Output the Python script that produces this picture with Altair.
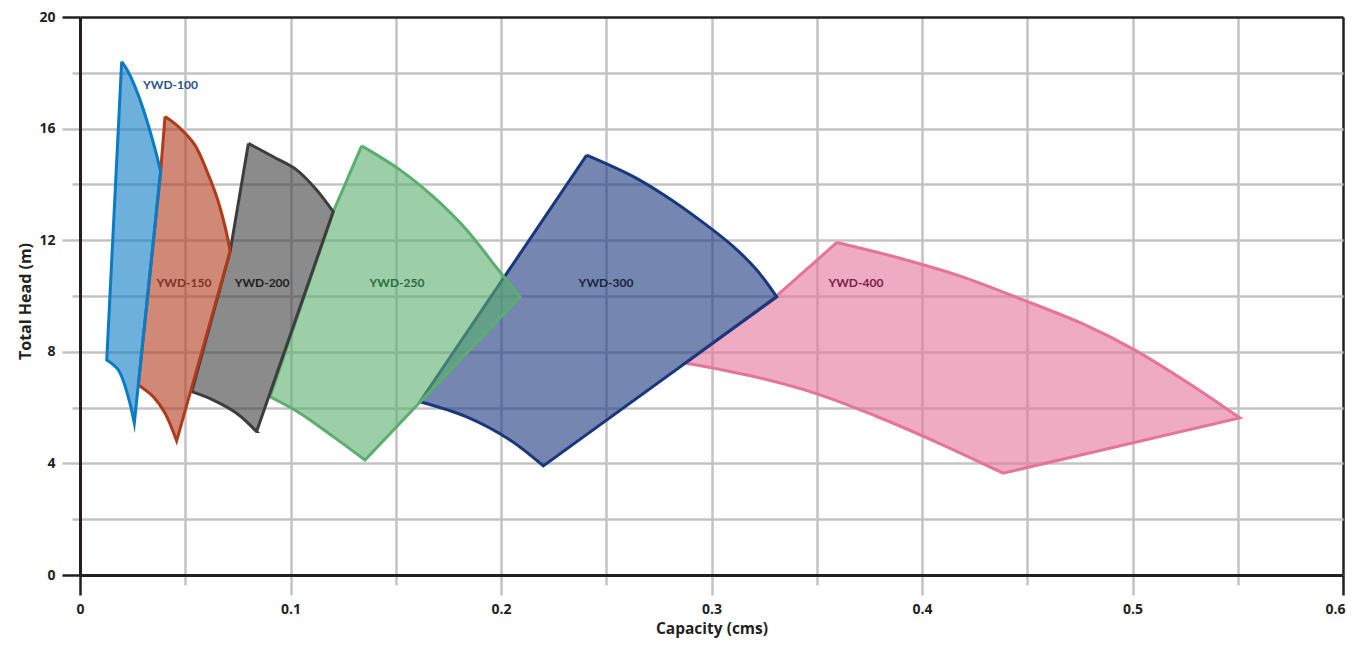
import altair as alt
import pandas as pd

# ---- data ----
pumps = ["YWD-100", "YWD-150", "YWD-200", "YWD-250", "YWD-300", "YWD-400"]
stroke_colors = ["#0B7BC3", "#B03A1B", "#3D3D3D", "#5AAF6E", "#19377D", "#E5739A"]
label_colors = ["#27548A", "#7E3324", "#1E1E1E", "#2F6B40", "#1B2340", "#7C1E46"]

# outline points (capacity, head); corner = 1 marks a sharp vertex of the envelope
ywd100_q = [0.0198, 0.0229, 0.0277, 0.0324, 0.0364, 0.0383, 0.0258, 0.0229, 0.0182, 0.0127, 0.0198]
ywd100_h = [18.40, 18.04, 17.20, 16.13, 15.05, 14.46, 5.44, 6.39, 7.35, 7.71, 18.40]
ywd100_c = [1, 0, 0, 0, 0, 1, 1, 0, 0, 1, 1]

ywd150_q = [0.0404, 0.0467, 0.0546, 0.0610, 0.0657, 0.0705, 0.0713, 0.0459, 0.0404, 0.0348, 0.0277, 0.0383, 0.0404]
ywd150_h = [16.43, 16.07, 15.41, 14.34, 13.38, 11.95, 11.59, 4.81, 5.80, 6.39, 6.81, 14.46, 16.43]
ywd150_c = [1, 0, 0, 0, 0, 0, 1, 1, 0, 0, 1, 1, 1]

ywd200_q = [0.0800, 0.0918, 0.1029, 0.1124, 0.1203, 0.0839, 0.0744, 0.0633, 0.0531, 0.0713, 0.0800]
ywd200_h = [15.47, 14.99, 14.52, 13.80, 13.02, 5.14, 5.80, 6.27, 6.57, 11.59, 15.47]
ywd200_c = [1, 0, 0, 0, 1, 1, 0, 0, 1, 1, 1]

ywd250_q = [0.1338, 0.1520, 0.1678, 0.1837, 0.1963, 0.2090, 0.1354, 0.1203, 0.1045, 0.0903, 0.1203, 0.1338]
ywd250_h = [15.38, 14.52, 13.56, 12.37, 11.17, 9.97, 4.12, 4.96, 5.80, 6.39, 13.02, 15.38]
ywd250_c = [1, 0, 0, 0, 0, 1, 1, 0, 0, 1, 1, 1]

ywd300_q = [0.2407, 0.2629, 0.2787, 0.2945, 0.3104, 0.3215, 0.3310, 0.2201, 0.2043, 0.1837, 0.1615, 0.2407]
ywd300_h = [15.05, 14.28, 13.56, 12.72, 11.77, 10.93, 9.97, 3.91, 4.84, 5.67, 6.21, 15.05]
ywd300_c = [1, 0, 0, 0, 0, 0, 1, 1, 0, 0, 1, 1]

ywd400_q = [0.3596, 0.3882, 0.4178, 0.4474, 0.4770, 0.5007, 0.5263, 0.5510, 0.4385, 0.4079, 0.3783, 0.3487, 0.3191, 0.2876, 0.3300, 0.3596]
ywd400_h = [11.92, 11.38, 10.72, 9.88, 8.98, 8.08, 6.89, 5.63, 3.65, 4.73, 5.69, 6.53, 7.13, 7.60, 9.94, 11.92]
ywd400_c = [1, 0, 0, 0, 0, 0, 0, 1, 1, 0, 0, 0, 0, 1, 1, 1]

label_q = [0.0430, 0.0494, 0.0865, 0.1506, 0.2499, 0.3686]
label_h = [17.56, 10.47, 10.47, 10.47, 10.47, 10.47]

x_ticks = [round(i * 0.05, 2) for i in range(13)]
y_ticks = list(range(0, 21, 2))

# ---- build tables ----
series = {
    "YWD-100": (ywd100_q, ywd100_h, ywd100_c),
    "YWD-150": (ywd150_q, ywd150_h, ywd150_c),
    "YWD-200": (ywd200_q, ywd200_h, ywd200_c),
    "YWD-250": (ywd250_q, ywd250_h, ywd250_c),
    "YWD-300": (ywd300_q, ywd300_h, ywd300_c),
    "YWD-400": (ywd400_q, ywd400_h, ywd400_c),
}
rows = []
for p, (qs, hs, cs) in series.items():
    col = stroke_colors[pumps.index(p)]
    k = 0
    n = len(qs)
    for i, (q, h, c) in enumerate(zip(qs, hs, cs)):
        # a sharp vertex is listed twice so the smooth curve keeps its corner
        reps = 2 if (c and 0 < i < n - 1) else 1
        for _ in range(reps):
            rows.append({"pump": p, "q": q, "h": h, "idx": k, "scolor": col})
            k += 1
df = pd.DataFrame(rows)

df_lab = pd.DataFrame({"pump": pumps, "q": label_q, "h": label_h, "tcolor": label_colors})

DARK = "#231f20"
GRID = "#c3c3c6"
FONT = "Open Sans"
LFONT = "Lato"

xaxis = alt.Axis(
    values=x_ticks,
    labelExpr="round(datum.value*20) % 2 == 0 ? format(datum.value, '~g') : ''",
    grid=True,
    gridColor={"condition": {"test": "datum.value > 0.599", "value": DARK}, "value": GRID},
    gridWidth=2.5,
    tickColor={"condition": {"test": "datum.value < 0.001 || datum.value > 0.599", "value": DARK}, "value": GRID},
    tickSize={"condition": {"test": "round(datum.value*20) % 2 == 0", "value": 20}, "value": 10},
    tickWidth=2.5,
    domainColor=DARK,
    domainWidth=3,
    labelPadding=7,
    labelOffset={"condition": {"test": "datum.value > 0.599", "value": -8}, "value": 0},
    labelFont=FONT,
    labelFontWeight="bold",
    labelFontSize=14,
    labelColor=DARK,
    labelOverlap=False,
    labelFlush=False,
    title="Capacity (cms)",
    titleFont=FONT,
    titleFontSize=15.5,
    titleFontWeight="bold",
    titleColor=DARK,
    titleX=631.5,
    titleY=53,
    titleBaseline="middle",
    titleAlign="center",
)

yaxis = alt.Axis(
    values=y_ticks,
    labelExpr="datum.value % 4 == 0 ? datum.label : ''",
    grid=True,
    gridColor={"condition": {"test": "datum.value > 19.99", "value": DARK}, "value": GRID},
    gridWidth=2.5,
    tickColor={"condition": {"test": "datum.value < 0.001 || datum.value > 19.99", "value": DARK}, "value": GRID},
    tickSize={"condition": {"test": "datum.value % 4 == 0", "value": 18}, "value": 8},
    tickWidth=2.5,
    domainColor=DARK,
    domainWidth=3,
    labelPadding=7,
    labelFont=FONT,
    labelFontWeight="bold",
    labelFontSize=14,
    labelColor=DARK,
    labelOverlap=False,
    labelFlush=False,
    title="Total Head (m)",
    titleFont=FONT,
    titleFontSize=16,
    titleFontWeight="bold",
    titleColor=DARK,
    titleX=-55,
    titleY=284,
    titleAngle=-90,
    titleBaseline="middle",
    titleAlign="center",
)

xscale = alt.Scale(domain=[0, 0.6], nice=False, zero=False)
yscale = alt.Scale(domain=[0, 20], nice=False, zero=False)


def polygon(p):
    return (
        alt.Chart(df)
        .transform_filter(alt.datum.pump == p)
        .mark_line(strokeWidth=3, fillOpacity=0.6, strokeJoin="miter", strokeMiterLimit=20,
                   interpolate="catmull-rom")
        .encode(
            x=alt.X("q:Q", scale=xscale, axis=xaxis),
            y=alt.Y("h:Q", scale=yscale, axis=yaxis),
            order=alt.Order("idx:Q"),
            stroke=alt.Stroke("scolor:N", scale=None, legend=None),
            fill=alt.Fill("scolor:N", scale=None, legend=None),
        )
    )


layers = [polygon(p) for p in reversed(pumps)]

labels = (
    alt.Chart(df_lab)
    .mark_text(font=LFONT, fontWeight="bold", fontSize=12, align="center", baseline="middle")
    .encode(
        x=alt.X("q:Q", scale=xscale, axis=xaxis),
        y=alt.Y("h:Q", scale=yscale, axis=yaxis),
        text="pump:N",
        color=alt.Color("tcolor:N", scale=None, legend=None),
    )
)

chart = (
    alt.layer(*layers, labels)
    .properties(
        width=1263,
        height=558,
        autosize=alt.AutoSizeParams(type="none"),
        padding={"left": 72, "top": 9, "right": 3, "bottom": 64},
    )
    .configure_view(stroke=None)
    .configure(background="white")
)

chart.save("out.html", embed_options={"renderer": "svg", "actions": False})
